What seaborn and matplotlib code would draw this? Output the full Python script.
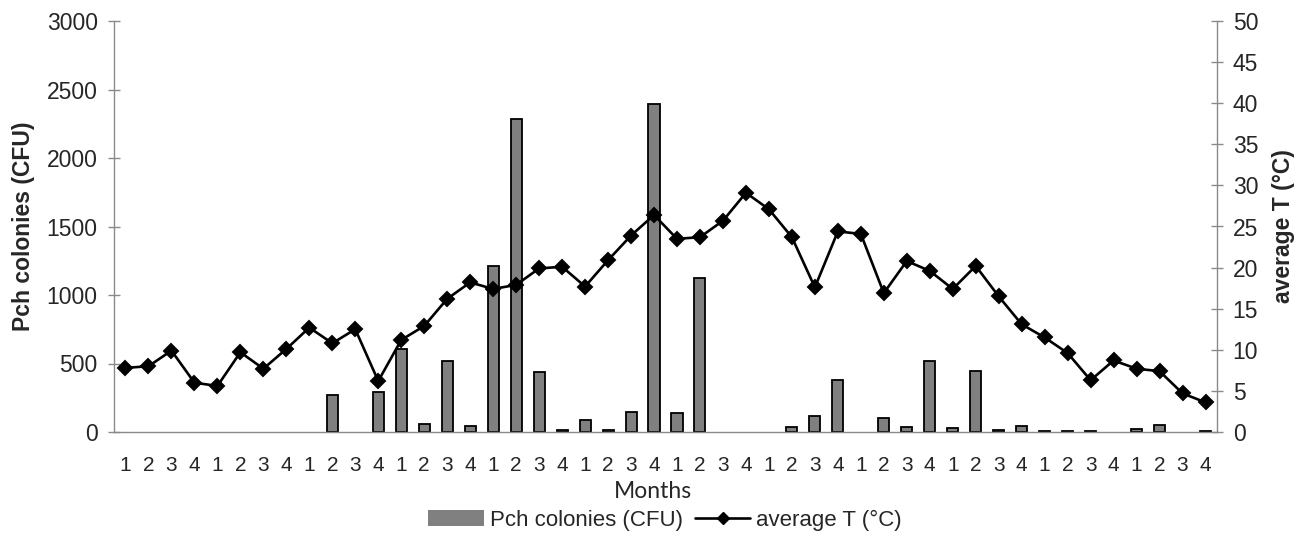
import matplotlib
matplotlib.use("Agg")
import matplotlib.pyplot as plt
import seaborn as sns
import pandas as pd
import numpy as np
from matplotlib.patches import Patch
from matplotlib.lines import Line2D

# ---- data ----
period_labels = ["1", "2", "3", "4"] * 12
colonies = [0, 0, 0, 0, 0, 0, 0, 0, 0, 272, 0, 290,
            608, 58, 520, 46, 1212, 2285, 440, 14, 84, 16, 148, 2392,
            136, 1122, 0, 0, 0, 40, 117, 380, 0, 100, 36, 520,
            28, 443, 12, 42, 10, 8, 8, 0, 24, 53, 0, 8]
temperature = [7.8, 8.0, 9.9, 6.0, 5.6, 9.7, 7.7, 10.1, 12.7, 10.8, 12.5, 6.2,
               11.2, 12.9, 16.2, 18.2, 17.4, 17.9, 19.9, 20.1, 17.7, 20.9, 23.9, 26.4,
               23.5, 23.7, 25.7, 29.1, 27.1, 23.7, 17.6, 24.4, 24.1, 16.9, 20.8, 19.6,
               17.4, 20.2, 16.5, 13.1, 11.5, 9.6, 6.3, 8.7, 7.7, 7.4, 4.7, 3.6]

df = pd.DataFrame({"idx": np.arange(len(colonies)),
                   "colonies": colonies,
                   "temperature": temperature})

sns.set_style("white")
plt.rcParams["font.family"] = ["Liberation Sans", "DejaVu Sans"]

W, H = 1305, 536
fig = plt.figure(figsize=(W / 100, H / 100), dpi=100)
ax = fig.add_axes([114 / W, 1 - 432 / H, (1217 - 114) / W, (432 - 21) / H])

sns.barplot(data=df, x="idx", y="colonies", ax=ax, color="#808080",
            saturation=1, width=0.48, edgecolor="black", linewidth=1.3, zorder=2)
# bars with zero colonies are not drawn in the original
for p in list(ax.patches):
    if p.get_height() == 0:
        p.remove()

ax2 = ax.twinx()
sns.pointplot(data=df, x="idx", y="temperature", ax=ax2, color="black",
              markers="D", linestyles="-", markersize=6.8, linewidth=1.9,
              errorbar=None)

gray = "#8a8a8a"
n = len(colonies)
ax.set_ylim(0, 3000)
ax.set_yticks(np.arange(0, 3001, 500))
ax2.set_ylim(0, 50)
ax2.set_yticks(np.arange(0, 51, 5))
ax.set_xlim(-0.5, n - 0.5)
ax2.set_xlim(-0.5, n - 0.5)

ax.set_xticks(np.arange(n))
ax.set_xticklabels(period_labels)
ax.set_xticks(np.arange(-0.5, n), minor=True)
ax.tick_params(axis="x", which="major", length=0, pad=17, labelsize=15)
ax.tick_params(axis="x", which="minor", length=8.5, direction="inout",
               color=gray, width=1)
ax.tick_params(axis="y", length=8.5, direction="inout", color=gray,
               width=1, labelsize=16.5, pad=7.5)
ax2.tick_params(axis="y", length=8.5, direction="inout", color=gray,
                width=1, labelsize=16.5, pad=7)

for a in (ax, ax2):
    a.spines["top"].set_visible(False)
    for s in ("left", "right", "bottom"):
        a.spines[s].set_color(gray)
        a.spines[s].set_linewidth(1)
ax.spines["right"].set_visible(False)
ax2.spines["left"].set_visible(False)
ax2.spines["bottom"].set_visible(False)

ax.set_xlabel("")
ax2.set_xlabel("")
ax.set_ylabel("Pch colonies (CFU)", fontsize=16.5, fontweight="bold")
ax2.set_ylabel("average T (°C)", fontsize=16.5, fontweight="bold")
ax.yaxis.set_label_coords((35 - 114) / 1103, 0.5)
ax2.yaxis.set_label_coords((1272 - 114) / 1103, 0.5)

fig.text(0.5, 1 - 492 / H, "Months", ha="center", va="center",
         fontsize=16.5, family=["Lato", "DejaVu Sans"])

handles = [Patch(facecolor="#808080", edgecolor="none"),
           Line2D([0], [0], color="black", lw=1.9, marker="D", markersize=6.5)]
fig.legend(handles, ["Pch colonies (CFU)", "average T (°C)"],
           loc="center", bbox_to_anchor=(665 / W, 1 - 520 / H), ncol=2,
           frameon=False, fontsize=16, handlelength=2.5, handleheight=0.75,
           handletextpad=0.25, columnspacing=0.55, borderpad=0, borderaxespad=0)

fig.savefig("out.png", dpi=100, facecolor="white")
